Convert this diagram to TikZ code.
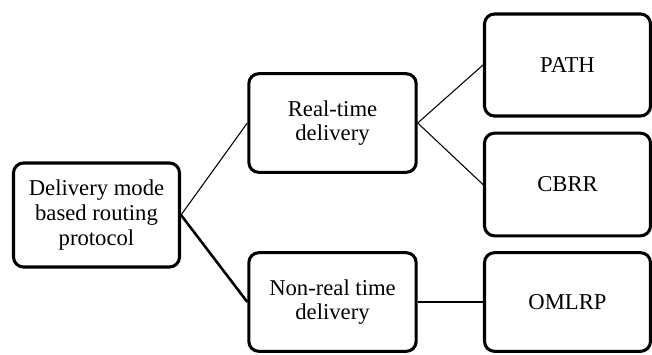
\documentclass[tikz,border=0pt]{standalone}
\usepackage{fontspec}
\setmainfont{Liberation Serif}

\begin{document}
\begin{tikzpicture}[x=0.75pt,y=0.75pt,yscale=-1,xscale=1,
  box/.style={draw, line width=2.3pt, rounded corners=7.5pt, align=center,
    inner sep=0.75pt, font=\fontsize{17}{18.5}\selectfont,
    minimum width=124.5pt, minimum height=75pt}]
%set diagram size
\useasboundingbox (0,0) rectangle (652,354);

% Text Node
\draw (96.5,215) node (root) [box, minimum height=78pt] {Delivery mode\\based routing\\protocol};
% Text Node
\draw (332.5,123) node (rt) [box, minimum width=125.5pt, minimum height=74pt] {Real-time\\delivery};
% Text Node
\draw (332.5,302) node (nrt) [box, minimum width=125.5pt, minimum height=74pt] {Non-real time\\delivery};
% Text Node
\draw (567.5,65) node (path) [box, minimum height=76.5pt] {PATH};
% Text Node
\draw (567.5,184.5) node (cbrr) [box, minimum height=77pt] {CBRR};
% Text Node
\draw (567.5,302) node (omlrp) [box, minimum height=74pt] {OMLRP};

%Straight Lines
\draw [line width=0.8pt] (root.east) -- (rt.west) ;
%Straight Lines
\draw [line width=1.9pt] (root.east) -- (nrt.west) ;
%Straight Lines
\draw [line width=0.8pt] (rt.east) -- (path.west) ;
%Straight Lines
\draw [line width=0.8pt] (rt.east) -- (cbrr.west) ;
%Straight Lines
\draw [line width=1.4pt] (nrt.east) -- (omlrp.west) ;

\end{tikzpicture}
\end{document}
